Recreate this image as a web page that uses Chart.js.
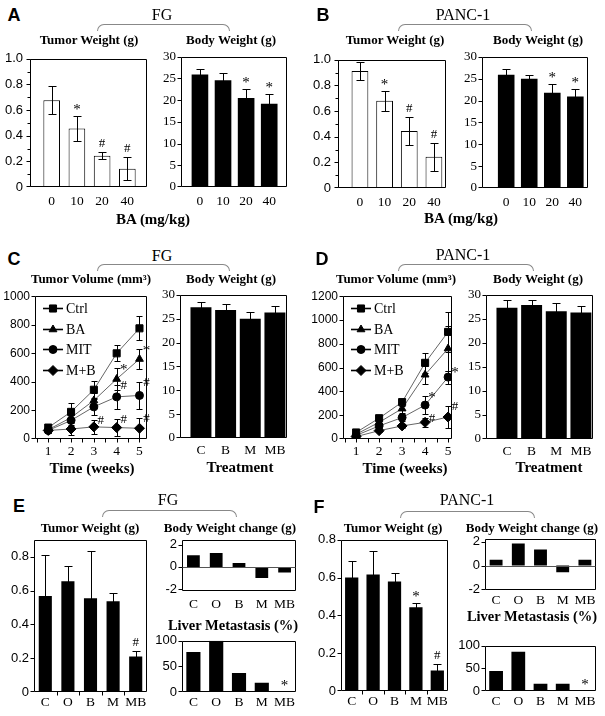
<!DOCTYPE html>
<html>
<head>
<meta charset="utf-8">
<title>BA tumor figure</title>
<script src="https://cdn.jsdelivr.net/npm/chart.js@4.4.0/dist/chart.umd.min.js"></script>
<style>
  body { margin: 0; background: #fff; }
  #fig { position: relative; width: 605px; height: 716px; overflow: hidden; background: #fff; }
  #fig canvas { position: absolute; }
  .t { position: absolute; white-space: nowrap; transform: translate(-50%, -50%); font-family: "Liberation Serif", "Times New Roman", serif; color: #000; line-height: 1; }
  .ttl { font-size: 13px; font-weight: bold; }
  .big { font-size: 14.5px; font-weight: bold; }
  .ax { font-size: 15px; font-weight: bold; }
  .cell { font-size: 16px; }
  .lt { font-family: "Liberation Sans", Arial, sans-serif; font-size: 18px; font-weight: bold; }
  .brace { position: absolute; height: 6px; border: 1px solid #888; border-bottom: none; border-radius: 10px 10px 0 0; }
</style>
</head>
<body>
<div id="fig"></div>
<script>
// ---- categories / ticks ----
const doses = ['0', '10', '20', '40'];
const treat4 = ['C', 'B', 'M', 'MB'];
const treat5 = ['C', 'O', 'B', 'M', 'MB'];
const weeks = [1, 2, 3, 4, 5];
const weekMarks = [0.5, 1, 1.5, 2, 2.5, 3, 3.5, 4, 4.5, 5];
const groupMarks = [0.5, 1.5, 2.5, 3.5];

const tumorTicks = [0, 0.2, 0.4, 0.6, 0.8, 1.0];
const bodyTicks = [0, 5, 10, 15, 20, 25, 30];
const fgVolTicks = [0, 200, 400, 600, 800, 1000];
const pcVolTicks = [0, 200, 400, 600, 800, 1000, 1200];
const combTicks = [0, 0.2, 0.4, 0.6, 0.8];
const changeTicks = [-2, 0, 2];
const liverTicks = [0, 50, 100];

// ---- A: FG, dose response ----
const fgTumor = [0.676, 0.457, 0.244, 0.143];
const fgTumorErr = [0.11, 0.096, 0.027, 0.088];
const fgTumorSig = ['', '*', '#', '#'];
const fgBody = [25.9, 24.6, 20.5, 19.2];
const fgBodyErr = [1.3, 1.6, 2.1, 2.3];
const fgBodySig = ['', '', '*', '*'];

// ---- B: PANC-1, dose response ----
const pcTumor = [0.912, 0.68, 0.445, 0.243];
const pcTumorErr = [0.07, 0.077, 0.11, 0.108];
const pcTumorSig = ['', '*', '#', '#'];
const pcBody = [25.9, 25.0, 21.8, 20.9];
const pcBodyErr = [1.3, 0.9, 2.0, 1.8];
const pcBodySig = ['', '', '*', '*'];

// ---- C: FG growth curves ----
const fgCtrl = [80, 190, 345, 600, 775];
const fgCtrlErr = [20, 60, 60, 55, 85];
const fgBA = [65, 150, 270, 420, 560];
const fgBAErr = [15, 50, 50, 80, 70];
const fgBASig = ['', '', '', '*', '*'];
const fgMIT = [60, 130, 225, 295, 305];
const fgMITErr = [15, 40, 55, 85, 95];
const fgMITSig = ['', '', '', '#', '#'];
const fgMB = [60, 70, 85, 80, 75];
const fgMBErr = [15, 45, 50, 60, 70];
const fgMBSig = ['', '', '#', '#', '#'];
const fgBody2 = [27.4, 26.8, 25.0, 26.3];
const fgBody2Err = [1.0, 1.2, 1.5, 1.4];

// ---- D: PANC-1 growth curves ----
const pcCtrl = [55, 175, 310, 640, 900];
const pcCtrlErr = [20, 25, 30, 85, 170];
const pcBA = [40, 140, 255, 540, 760];
const pcBAErr = [15, 20, 35, 75, 190];
const pcMIT = [30, 110, 180, 285, 520];
const pcMITErr = [10, 20, 30, 75, 55];
const pcMITSig = ['', '', '', '*', '*'];
const pcMB = [20, 70, 110, 140, 185];
const pcMBErr = [10, 15, 20, 35, 95];
const pcMBSig = ['', '', '', '#', '#'];
const pcBody2 = [27.3, 27.9, 26.6, 26.3];
const pcBody2Err = [1.6, 1.0, 1.6, 1.3];

// ---- E: FG combination ----
const fgComb = [0.567, 0.655, 0.555, 0.536, 0.21];
const fgCombErr = [0.245, 0.09, 0.28, 0.05, 0.03];
const fgCombSig = ['', '', '', '', '#'];
const fgChange = [1.04, 1.24, 0.34, -0.99, -0.5];
const fgLiver = [78, 100, 37, 18, 0];
const fgLiverSig = ['', '', '', '', '*'];

// ---- F: PANC-1 combination ----
const pcComb = [0.6, 0.617, 0.579, 0.443, 0.108];
const pcCombErr = [0.09, 0.125, 0.043, 0.022, 0.035];
const pcCombSig = ['', '', '', '*', '#'];
const pcChange = [0.5, 1.85, 1.35, -0.55, 0.5];
const pcLiver = [44, 87, 16, 16, 0];
const pcLiverSig = ['', '', '', '', '*'];

const SERIF = '"Liberation Serif", "Times New Roman", serif';
const SANS = '"Liberation Sans", Arial, sans-serif';
const fig = document.getElementById('fig');

function text(s, x, y, cls) {
    const d = document.createElement('div');
    d.className = 't ' + cls;
    d.textContent = s;
    d.style.left = x + 'px';
    d.style.top = y + 'px';
    fig.appendChild(d);
}

function brace(x1, x2, y) {
    const d = document.createElement('div');
    d.className = 'brace';
    d.style.left = x1 + 'px';
    d.style.top = y + 'px';
    d.style.width = (x2 - x1) + 'px';
    fig.appendChild(d);
}

// error bars, significance marks, frame, tick marks, inline legend
const extras = {
    id: 'extras',
    afterDatasetsDraw(chart, args, o) {
        const ctx = chart.ctx, ys = chart.scales.y;
        ctx.save();
        ctx.lineWidth = 1;
        ctx.strokeStyle = '#000';
        ctx.fillStyle = '#000';
        chart.data.datasets.forEach((ds, i) => {
            chart.getDatasetMeta(i).data.forEach((el, j) => {
                const v = ds.data[j].y;
                const e = ds.err ? ds.err[j] : 0;
                const x = Math.round(el.x) + 0.5;
                const top = ys.getPixelForValue(v + e);
                if (e) {
                    const yt = Math.round(top) + 0.5;
                    const yb = Math.round(ys.getPixelForValue(v - e)) + 0.5;
                    ctx.beginPath();
                    ctx.moveTo(x, yt); ctx.lineTo(x, yb);
                    ctx.moveTo(x - o.cap, yt); ctx.lineTo(x + o.cap, yt);
                    ctx.moveTo(x - o.cap, yb); ctx.lineTo(x + o.cap, yb);
                    ctx.stroke();
                }
                const s = ds.sig ? ds.sig[j] : '';
                if (s) {
                    ctx.font = (s === '*' ? '15px ' : '13px ') + SERIF;
                    ctx.textAlign = 'center';
                    ctx.textBaseline = 'alphabetic';
                    if (o.sigSide) {
                        ctx.fillText(s, el.x + 7, top + (s === '*' ? 6 : 4));
                    } else {
                        ctx.fillText(s, el.x, top - (s === '*' ? 2 : 5));
                    }
                }
            });
        });
        ctx.restore();
    },
    afterDraw(chart, args, o) {
        const ctx = chart.ctx, a = chart.chartArea;
        const xs = chart.scales.x, ys = chart.scales.y;
        const L = Math.round(a.left) + 0.5, R = Math.round(a.right) - 0.5;
        const T = Math.round(a.top) + 0.5, B = Math.round(a.bottom) - 0.5;
        const yPix = v => Math.min(B, Math.max(T, Math.round(ys.getPixelForValue(v)) + 0.5));
        ctx.save();
        ctx.strokeStyle = '#000';
        ctx.lineWidth = 1;
        ctx.beginPath();
        ctx.rect(L, T, R - L, B - T);
        ys.ticks.forEach(tk => {
            const y = yPix(tk.value);
            ctx.moveTo(L - 4, y); ctx.lineTo(L, y);
        });
        if (o.yMinor) {
            for (let v = ys.min; v <= ys.max + 1e-9; v += o.yMinor) {
                const y = yPix(v);
                ctx.moveTo(L - 3, y); ctx.lineTo(L, y);
            }
        }
        (o.xMarks || []).forEach(v => {
            const x = Math.round(xs.getPixelForValue(v)) + 0.5;
            ctx.moveTo(x, B); ctx.lineTo(x, B + 4);
        });
        ctx.stroke();
        if (o.zeroLine) {
            const y0 = yPix(0);
            ctx.strokeStyle = '#555';
            ctx.beginPath();
            ctx.moveTo(L, y0); ctx.lineTo(R, y0);
            ctx.stroke();
        }
        if (o.legend) {
            const g = o.legend;
            chart.data.datasets.forEach((ds, k) => {
                const y = Math.round(a.top + g.top + k * g.step) + 0.5;
                const x0 = a.left + g.left, x1 = x0 + g.len;
                ctx.strokeStyle = '#000';
                ctx.fillStyle = '#000';
                ctx.lineWidth = 1.6;
                ctx.beginPath();
                ctx.moveTo(x0, y); ctx.lineTo(x1, y);
                ctx.stroke();
                ctx.lineWidth = 1;
                const H = Chart.helpers;
                if (H && H.drawPoint) {
                    H.drawPoint(ctx, { pointStyle: ds.pointStyle, radius: ds.pointRadius, borderWidth: 1, rotation: 0 }, (x0 + x1) / 2, y);
                } else {
                    ctx.beginPath();
                    ctx.arc((x0 + x1) / 2, y, ds.pointRadius, 0, Math.PI * 2);
                    ctx.fill();
                }
                ctx.font = '14px ' + SERIF;
                ctx.textAlign = 'left';
                ctx.textBaseline = 'middle';
                ctx.fillText(ds.label, x1 + g.gap, y + 1);
            });
        }
        ctx.restore();
    }
};

function bars(vals, errs, sig, fill, frac) {
    return {
        data: vals.map((v, i) => ({ x: i, y: v })),
        err: errs,
        sig: sig,
        backgroundColor: fill,
        borderColor: '#000',
        borderWidth: fill === '#fff' ? 1 : 0,
        borderSkipped: 'start',
        categoryPercentage: 1,
        barPercentage: frac
    };
}

function series(name, vals, errs, sig, style, rad) {
    return {
        label: name,
        data: vals.map((v, i) => ({ x: weeks[i], y: v })),
        err: errs,
        sig: sig,
        borderColor: '#666',
        borderWidth: 1,
        pointStyle: style,
        pointRadius: rad,
        pointBackgroundColor: '#000',
        pointBorderColor: '#000',
        pointBorderWidth: 1
    };
}

const f1 = v => (v === 0 ? '0' : v.toFixed(1));
const num = v => String(v);
const sansF = { family: SANS, size: 13 };
const serifF = { family: SERIF, size: 13 };
const xF = { family: SERIF, size: 13.5 };

function plot(box, o) {
    const [l, t, r, b] = box;
    const padL = 40, padT = 10, padR = 12, padB = 24;
    const cv = document.createElement('canvas');
    cv.width = padL + r - l + padR;
    cv.height = padT + b - t + padB;
    cv.style.left = (l - padL) + 'px';
    cv.style.top = (t - padT) + 'px';
    fig.appendChild(cv);
    return new Chart(cv, {
        type: o.type || 'bar',
        data: { datasets: o.datasets },
        plugins: [extras],
        options: {
            responsive: false,
            animation: false,
            devicePixelRatio: 1,
            layout: { padding: { top: padT, right: padR, left: 0, bottom: 0 } },
            plugins: {
                legend: { display: false },
                tooltip: { enabled: false },
                extras: Object.assign({ cap: 4 }, o.extras)
            },
            scales: {
                x: {
                    type: 'linear', offset: false, min: o.xMin, max: o.xMax,
                    grid: { display: false, drawTicks: false },
                    border: { display: false },
                    afterBuildTicks: s => { s.ticks = o.xTicks.map(v => ({ value: v })); },
                    afterFit: s => { s.height = padB; },
                    ticks: {
                        autoSkip: false, maxRotation: 0, padding: o.xPad, color: '#000',
                        font: xF, callback: o.xFmt
                    }
                },
                y: {
                    min: o.yMin, max: o.yMax,
                    grid: { display: false, drawTicks: false },
                    border: { display: false },
                    afterBuildTicks: s => { s.ticks = o.yTicks.map(v => ({ value: v })); },
                    afterFit: s => { s.width = padL; },
                    ticks: { padding: o.yPad, color: '#000', font: o.yFont, callback: o.yFmt }
                }
            }
        }
    });
}

const idx4 = [0, 1, 2, 3], idx5 = [0, 1, 2, 3, 4];

// ===== A =====
plot([30, 54, 147, 187], {
    datasets: [bars(fgTumor, fgTumorErr, fgTumorSig, '#fff', 0.66)],
    xMin: -0.86, xMax: 3.78, xTicks: idx4, xFmt: v => doses[v], xPad: 6,
    yMin: 0, yMax: 1, yTicks: tumorTicks, yFmt: f1, yFont: sansF, yPad: 7,
    extras: { yMinor: 0.1 }
});
plot([181, 54, 287, 187], {
    datasets: [bars(fgBody, fgBodyErr, fgBodySig, '#000', 0.72)],
    xMin: -0.82, xMax: 3.77, xTicks: idx4, xFmt: v => doses[v], xPad: 6,
    yMin: 0, yMax: 30, yTicks: bodyTicks, yFmt: num, yFont: serifF, yPad: 5
});
// ===== B =====
plot([338, 55, 446, 188], {
    datasets: [bars(pcTumor, pcTumorErr, pcTumorSig, '#fff', 0.68)],
    xMin: -0.89, xMax: 3.49, xTicks: idx4, xFmt: v => doses[v], xPad: 6,
    yMin: 0, yMax: 1, yTicks: tumorTicks, yFmt: f1, yFont: sansF, yPad: 7,
    extras: { yMinor: 0.1 }
});
plot([482, 54, 588, 188], {
    datasets: [bars(pcBody, pcBodyErr, pcBodySig, '#000', 0.72)],
    xMin: -1.05, xMax: 3.55, xTicks: idx4, xFmt: v => doses[v], xPad: 6,
    yMin: 0, yMax: 30, yTicks: bodyTicks, yFmt: num, yFont: serifF, yPad: 5
});

// ===== C =====
const legendPos = { left: 8, len: 20, gap: 3, top: 12, step: 20.5 };
plot([35, 294, 147, 439], {
    type: 'line',
    datasets: [
        series('Ctrl', fgCtrl, fgCtrlErr, null, 'rect', 5),
        series('BA', fgBA, fgBAErr, fgBASig, 'triangle', 4.5),
        series('MIT', fgMIT, fgMITErr, fgMITSig, 'circle', 4),
        series('M+B', fgMB, fgMBErr, fgMBSig, 'rectRot', 5)
    ],
    xMin: 0.42, xMax: 5.33, xTicks: weeks, xFmt: num, xPad: 4,
    yMin: 0, yMax: 1000, yTicks: fgVolTicks, yFmt: num, yFont: { family: SANS, size: 12 }, yPad: 5,
    extras: { xMarks: weekMarks, sigSide: true, cap: 3, legend: legendPos }
});
plot([180, 292, 287, 438], {
    datasets: [bars(fgBody2, fgBody2Err, null, '#000', 0.85)],
    xMin: -0.85, xMax: 3.49, xTicks: idx4, xFmt: v => treat4[v], xPad: 4,
    yMin: 0, yMax: 30, yTicks: bodyTicks, yFmt: num, yFont: serifF, yPad: 5
});
// ===== D =====
plot([343, 294, 452, 439], {
    type: 'line',
    datasets: [
        series('Ctrl', pcCtrl, pcCtrlErr, null, 'rect', 5),
        series('BA', pcBA, pcBAErr, null, 'triangle', 4.5),
        series('MIT', pcMIT, pcMITErr, pcMITSig, 'circle', 4),
        series('M+B', pcMB, pcMBErr, pcMBSig, 'rectRot', 5)
    ],
    xMin: 0.43, xMax: 5.17, xTicks: weeks, xFmt: num, xPad: 4,
    yMin: 0, yMax: 1200, yTicks: pcVolTicks, yFmt: num, yFont: { family: SANS, size: 12 }, yPad: 5,
    extras: { xMarks: weekMarks, sigSide: true, cap: 3, legend: legendPos }
});
plot([486, 292, 593, 439], {
    datasets: [bars(pcBody2, pcBody2Err, null, '#000', 0.85)],
    xMin: -0.85, xMax: 3.49, xTicks: idx4, xFmt: v => treat4[v], xPad: 4,
    yMin: 0, yMax: 30, yTicks: bodyTicks, yFmt: num, yFont: serifF, yPad: 5
});

// ===== E =====
plot([34, 537, 147, 692], {
    datasets: [bars(fgComb, fgCombErr, fgCombSig, '#000', 0.58)],
    xMin: -0.5, xMax: 4.5, xTicks: idx5, xFmt: v => treat5[v], xPad: 2,
    yMin: 0, yMax: 0.9, yTicks: combTicks, yFmt: f1, yFont: sansF, yPad: 5,
    extras: { xMarks: groupMarks }
});
plot([182, 537, 296, 591], {
    datasets: [bars(fgChange, null, null, '#000', 0.56)],
    xMin: -0.5, xMax: 4.5, xTicks: idx5, xFmt: v => treat5[v], xPad: 5,
    yMin: -2.15, yMax: 2.42, yTicks: changeTicks, yFmt: num, yFont: sansF, yPad: 5,
    extras: { zeroLine: true }
});
plot([182, 638, 296, 692], {
    datasets: [bars(fgLiver, null, fgLiverSig, '#000', 0.62)],
    xMin: -0.5, xMax: 4.5, xTicks: idx5, xFmt: v => treat5[v], xPad: 2,
    yMin: 0, yMax: 100, yTicks: liverTicks, yFmt: num, yFont: sansF, yPad: 5
});
// ===== F =====
plot([341, 537, 448, 691], {
    datasets: [bars(pcComb, pcCombErr, pcCombSig, '#000', 0.62)],
    xMin: -0.5, xMax: 4.5, xTicks: idx5, xFmt: v => treat5[v], xPad: 2,
    yMin: 0, yMax: 0.8, yTicks: combTicks, yFmt: f1, yFont: sansF, yPad: 5,
    extras: { xMarks: groupMarks }
});
plot([485, 536, 596, 590], {
    datasets: [bars(pcChange, null, null, '#000', 0.58)],
    xMin: -0.5, xMax: 4.5, xTicks: idx5, xFmt: v => treat5[v], xPad: 2,
    yMin: -2.05, yMax: 2.25, yTicks: changeTicks, yFmt: num, yFont: sansF, yPad: 5,
    extras: { zeroLine: true }
});
plot([485, 643, 596, 691], {
    datasets: [bars(pcLiver, null, pcLiverSig, '#000', 0.62)],
    xMin: -0.5, xMax: 4.5, xTicks: idx5, xFmt: v => treat5[v], xPad: 2,
    yMin: 0, yMax: 100, yTicks: liverTicks, yFmt: num, yFont: sansF, yPad: 5
});

// ===== text, letters, braces =====
text('A', 14, 15, 'lt');
text('FG', 162, 15, 'cell');
brace(97, 228, 24);
text('Tumor Weight (g)', 89, 39, 'ttl');
text('Body Weight (g)', 231, 39, 'ttl');
text('BA (mg/kg)', 153, 219, 'ax');

text('B', 323, 15, 'lt');
text('PANC-1', 463, 15, 'cell');
brace(398, 530, 24);
text('Tumor Weight (g)', 395, 39, 'ttl');
text('Body Weight (g)', 538, 39, 'ttl');
text('BA (mg/kg)', 461, 218, 'ax');

text('C', 14, 259, 'lt');
text('FG', 162, 256, 'cell');
brace(97, 228, 264);
text('Tumor Volume (mm\u00b3)', 91, 278, 'ttl');
text('Body Weight (g)', 231, 278, 'ttl');
text('Time (weeks)', 92, 468, 'ax');
text('Treatment', 240, 467, 'ax');

text('D', 322, 259, 'lt');
text('PANC-1', 463, 255, 'cell');
brace(398, 532, 264);
text('Tumor Volume (mm\u00b3)', 396, 278, 'ttl');
text('Body Weight (g)', 538, 278, 'ttl');
text('Time (weeks)', 405, 468, 'ax');
text('Treatment', 549, 467, 'ax');

text('E', 19, 506, 'lt');
text('FG', 168, 500, 'cell');
brace(102, 235, 510);
text('Tumor Weight (g)', 90, 527, 'ttl');
text('Body Weight change (g)', 230, 527, 'ttl');
text('Liver Metastasis (%)', 233, 625, 'big');

text('F', 319, 507, 'lt');
text('PANC-1', 467, 500, 'cell');
brace(400, 533, 511);
text('Tumor Weight (g)', 393, 527, 'ttl');
text('Body Weight change (g)', 532, 527, 'ttl');
text('Liver Metastasis (%)', 532, 616, 'big');
</script>
</body>
</html>
